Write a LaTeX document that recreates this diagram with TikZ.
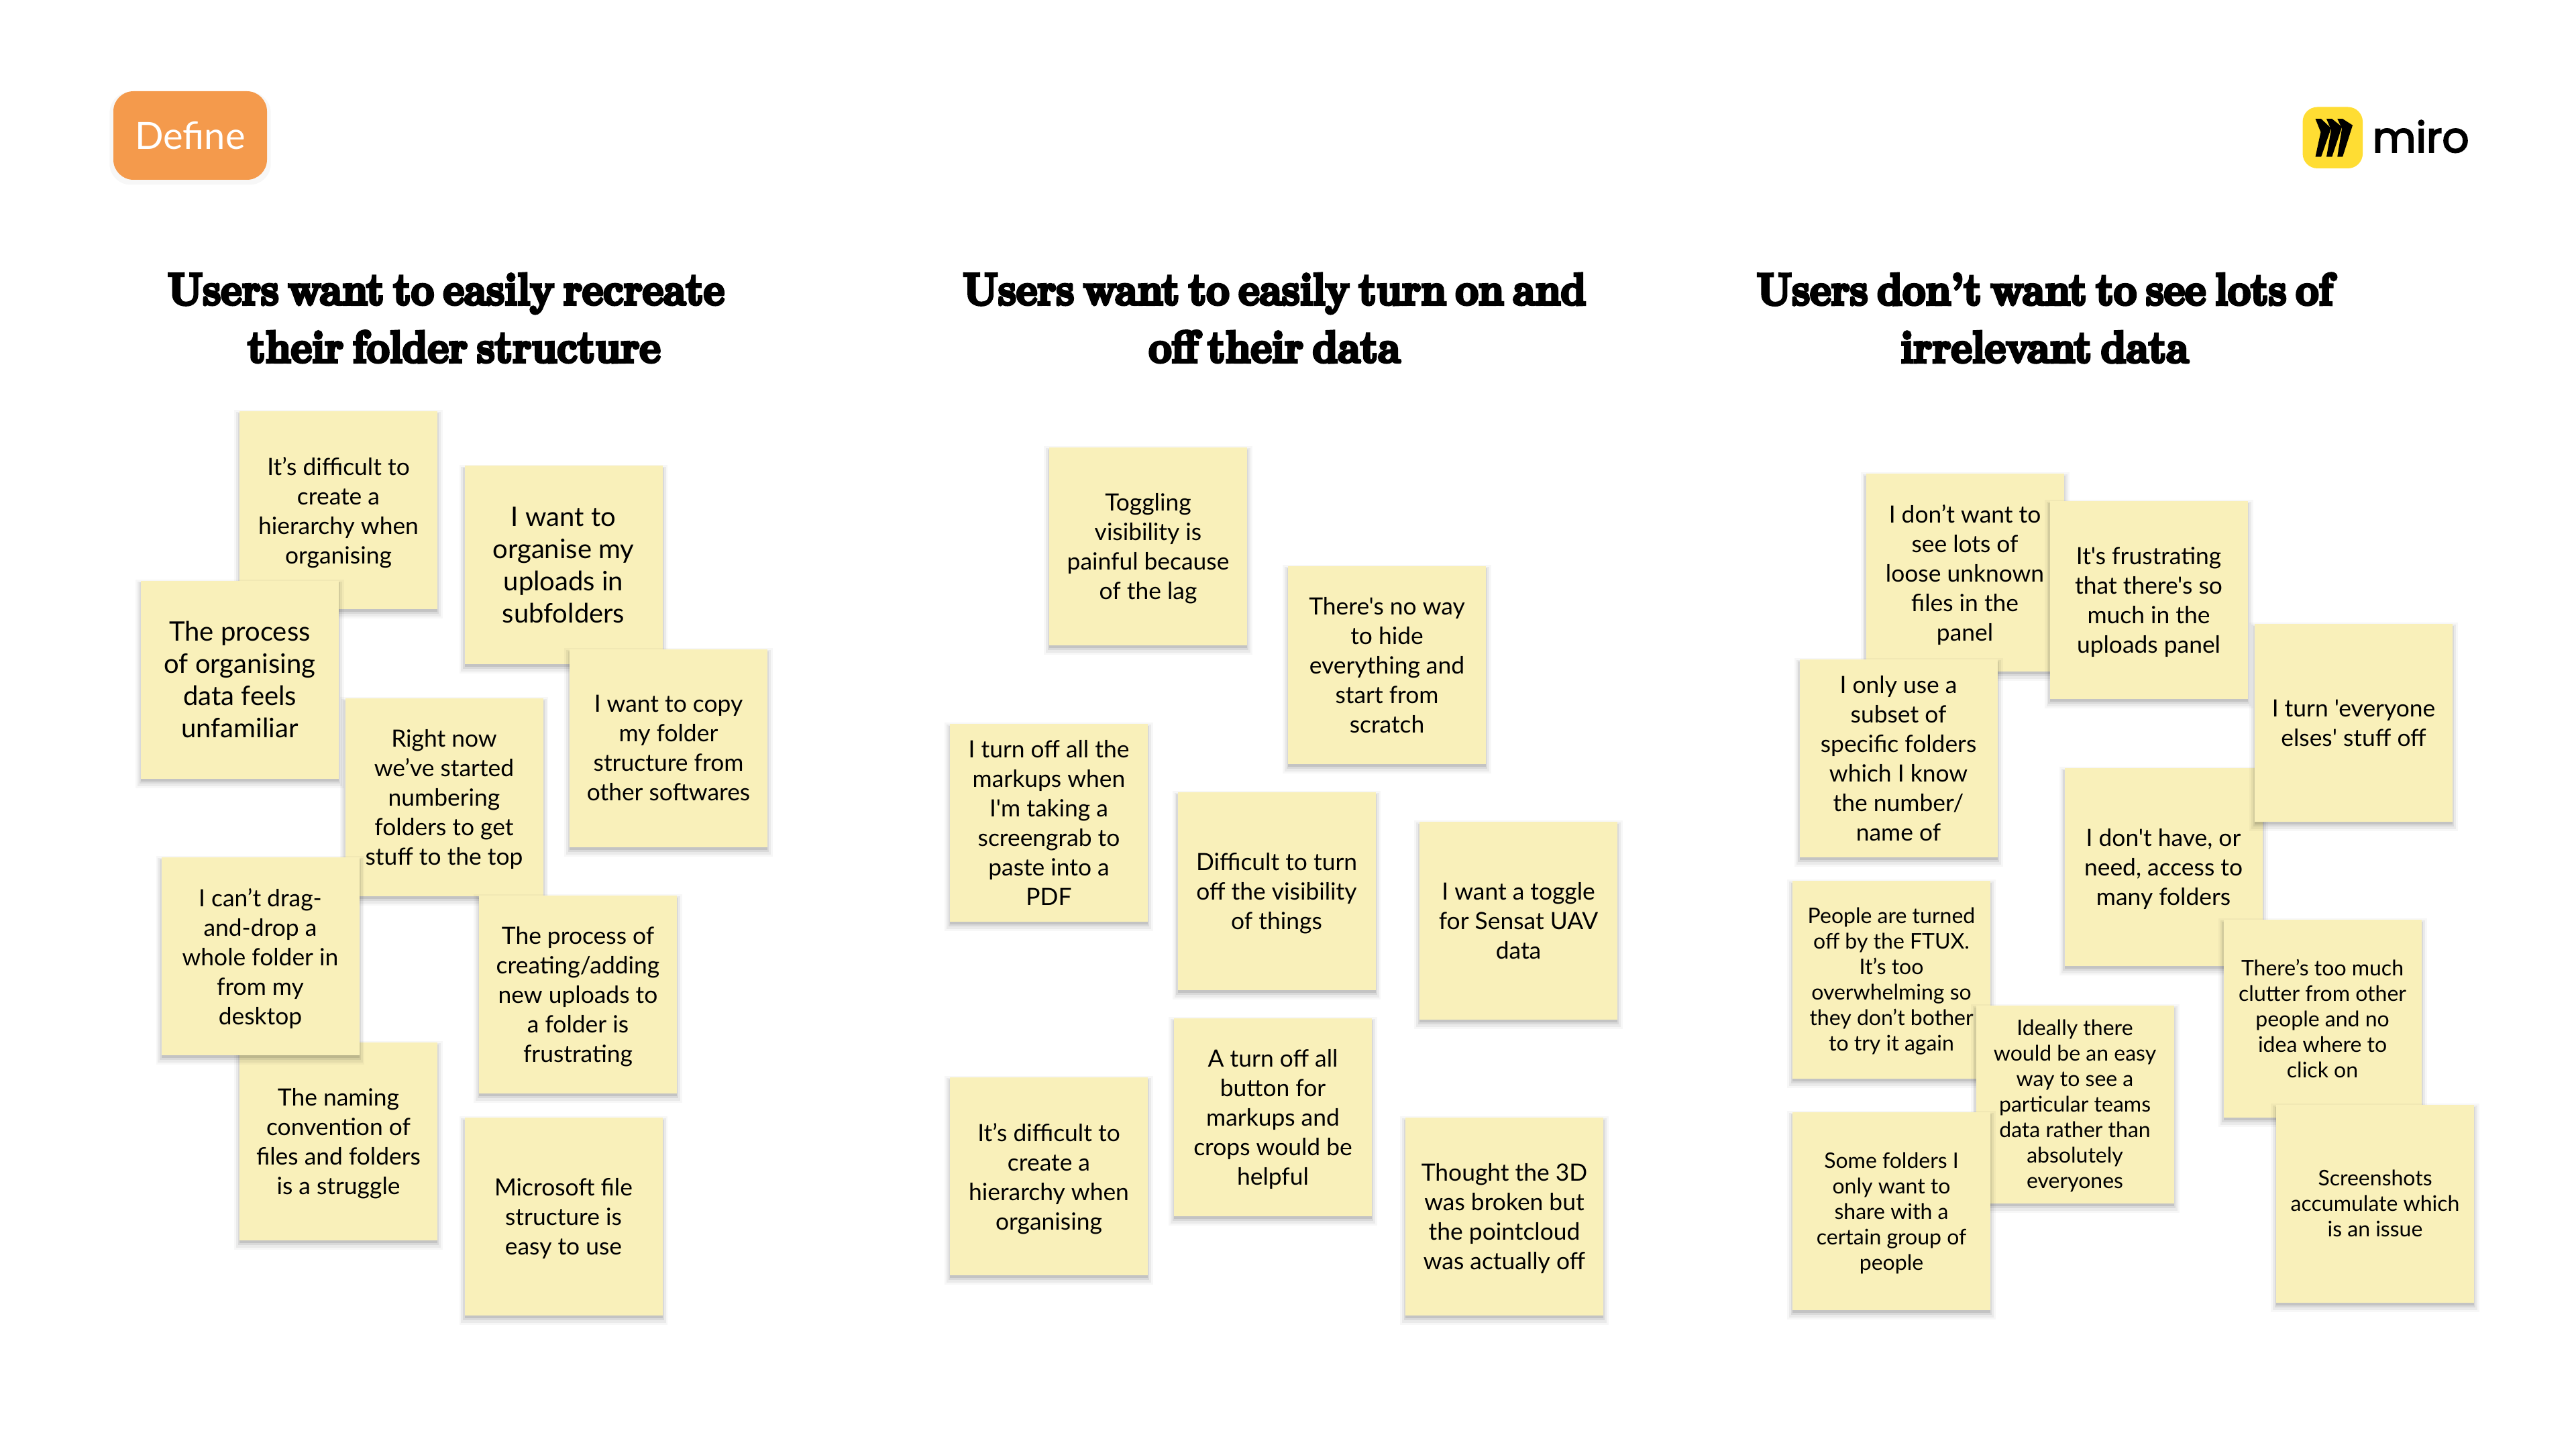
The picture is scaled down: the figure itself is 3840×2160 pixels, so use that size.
\documentclass[tikz,border=0pt]{standalone}
\usepackage{fontspec}
\usepackage{xcolor}
\usetikzlibrary{shadows}
\setmainfont{Lato}[Ligatures=TeXOff]
\newfontfamily\titleface[FakeStretch=0.884,FakeBold=6,WordSpace=0.6]{lmroman10-bold.otf}
\newfontfamily\miroface[FakeBold=3]{Poppins}
\definecolor{stickyyellow}{HTML}{F9F0BA}
\definecolor{defineorange}{HTML}{F49A4C}
\definecolor{miroyellow}{HTML}{FFDD33}
\tikzset{
  softshadow/.style={
    general shadow={fill=black,opacity=.03,shadow scale=1.054,shadow yshift=-1.5pt},
    general shadow={fill=black,opacity=.05,shadow scale=1.034,shadow yshift=-1.5pt},
    general shadow={fill=black,opacity=.07,shadow scale=1.014,shadow yshift=-1.25pt},
    general shadow={fill=black,opacity=.10,shadow yshift=-1pt}},
  sticky/.style={softshadow,fill=stickyyellow,minimum width=73.75pt,minimum height=73.75pt,inner sep=0pt,align=center,text=black,text depth=-0.5pt},
  bigsticky/.style={sticky,font=\fontsize{10pt}{12pt}\selectfont},
  midsticky/.style={sticky,font=\fontsize{8.85pt}{11pt}\selectfont},
  smallsticky/.style={sticky,font=\fontsize{8pt}{9.5pt}\selectfont},
  heading/.style={align=center,inner sep=0pt,font=\titleface\fontsize{16.8pt}{21.5pt}\selectfont},
  chevron/.style={fill=black}
}
\begin{document}
\begin{tikzpicture}[x=0.25pt,y=-0.25pt]
\useasboundingbox (0,0) rectangle (3840,2160);
\node[fill=defineorange,rounded corners=7.5pt,minimum width=57.25pt,minimum height=33pt,inner sep=0pt,text=white,text depth=-0.5pt,font=\fontsize{14pt}{16pt}\selectfont,
  general shadow={fill=black,opacity=.03,shadow scale=1.05,shadow yshift=-1pt}] (definetag) at (283.5,202) {Define};
% logo
\fill[miroyellow,rounded corners=5.5pt] (3432.5,159.5) rectangle (3522,251);
\fill[chevron] (3451.5,177.2) -- (3460.1,177.2) -- (3474.9,191.2) -- (3460.1,233.7) -- (3451.5,233.7) -- (3459.4,196.9) -- cycle;
\fill[chevron] (3468,177.2) -- (3476.3,177.2) -- (3491.1,189.1) -- (3476.3,233.7) -- (3468,233.7) -- (3474.9,193.5) -- cycle;
\fill[chevron] (3484.2,177.2) -- (3492.1,177.2) -- (3507,186.7) -- (3492.1,233.7) -- (3484.2,233.7) -- (3491.1,191.2) -- cycle;
\node[anchor=base west,inner sep=0pt,font=\miroface\fontsize{15.7pt}{18pt}\selectfont] (mirolabel) at (3536,227) {miro};
% headings
\node[heading] (headingone) at (677,474) {Users want to easily recreate\hspace*{6pt}\\their folder structure};
\node[heading] (headingtwo) at (1900,474) {Users want to easily turn on and\\off their data};
\node[heading] (headingthree) at (3048,474) {Users don’t want to see lots of\\irrelevant data};
% first column
\node[midsticky] (hierarchy) at (504.5,760.5) {It’s difficult to\\create a\\hierarchy when\\organising};
\node[bigsticky] (process) at (357.5,1013) {The process\\of organising\\data feels\\unfamiliar};
\node[bigsticky] (organise) at (840,842) {I want to\\organise my\\uploads in\\subfolders};
\node[midsticky] (copy) at (996.5,1115) {I want to copy\\my folder\\structure from\\other softwares};
\node[midsticky] (numbering) at (662,1188.5) {Right now\\we’ve started\\numbering\\folders to get\\stuff to the top};
\node[midsticky] (naming) at (504.5,1701.5) {The naming\\convention of\\files and folders\\is a struggle};
\node[midsticky] (dragdrop) at (388,1425.5) {I can’t drag-\\and-drop a\\whole folder in\\from my\\desktop};
\node[midsticky] (creating) at (861.5,1482.5) {The process of\\creating/adding\\new uploads to\\a folder is\\frustrating};
\node[midsticky] (microsoft) at (840,1813.5) {Microsoft file\\structure is\\easy to use};
% second column
\node[midsticky] (toggling) at (1711.5,814.5) {Toggling\\visibility is\\painful because\\of the lag};
\node[midsticky] (noway) at (2067.5,991.5) {There's no way\\to hide\\everything and\\start from\\scratch};
\node[midsticky] (turnoff) at (1563.5,1226.5) {I turn off all the\\markups when\\I'm taking a\\screengrab to\\paste into a\\PDF};
\node[midsticky] (visibility) at (1903,1328) {Difficult to turn\\off the visibility\\of things};
\node[midsticky] (toggle) at (2263.5,1372.5) {I want a toggle\\for Sensat UAV\\data};
\node[midsticky] (button) at (1897.5,1665.5) {A turn off all\\button for\\markups and\\crops would be\\helpful};
\node[midsticky] (hierarchytwo) at (1563.5,1753.5) {It’s difficult to\\create a\\hierarchy when\\organising};
\node[midsticky] (pointcloud) at (2242.5,1813.5) {Thought the 3D\\was broken but\\the pointcloud\\was actually off};
% third column
\node[midsticky] (loose) at (2929,853.5) {I don’t want to\\see lots of\\loose unknown\\files in the\\panel};
\node[midsticky] (frustrating) at (3203,894.5) {It's frustrating\\that there's so\\much in the\\uploads panel};
\node[midsticky] (subset) at (2830,1130.5) {I only use a\\subset of\\specific folders\\which I know\\the number/\\name of};
\node[midsticky] (access) at (3225,1292.5) {I don't have, or\\need, access to\\many folders};
\node[midsticky] (everyone) at (3508.5,1077.5) {I turn 'everyone\\elses' stuff off};
\node[smallsticky] (clutter) at (3462,1518.5) {There’s too much\\clutter from other\\people and no\\idea where to\\click on};
\node[smallsticky] (screenshots) at (3540.5,1794) {Screenshots\\accumulate which\\is an issue};
\node[smallsticky] (ftux) at (2819.5,1460) {People are turned\\off by the FTUX.\\It’s too\\overwhelming so\\they don’t bother\\to try it again};
\node[smallsticky] (ideally) at (3093,1646) {Ideally there\\would be an easy\\way to see a\\particular teams\\data rather than\\absolutely\\everyones};
\node[smallsticky] (somefolders) at (2819.5,1805.5) {Some folders I\\only want to\\share with a\\certain group of\\people};
\end{tikzpicture}
\end{document}
